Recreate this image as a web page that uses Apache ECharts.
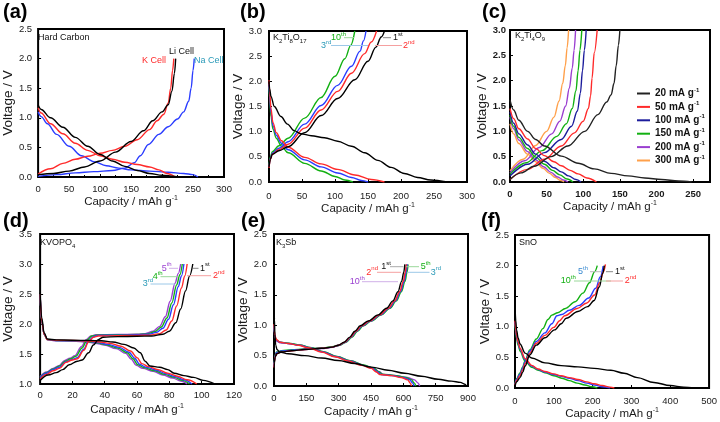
<!DOCTYPE html>
<html><head><meta charset="utf-8">
<script src="https://cdn.jsdelivr.net/npm/echarts@6/dist/echarts.min.js"></script>
<style>html,body{margin:0;padding:0;background:#fff}#c{width:720px;height:422px}</style>
</head><body><div id="c"></div>
<script>
// ---------- axis ranges [min, max, interval] ----------
const xRanges = [[0,300,50],[0,300,50],[0,273,50],[0,120,20],[0,900,150],[0,500,100]];
const yRanges = [[0,2.5,0.5],[0,3,0.5],[0,3,0.5],[1,3.5,0.5],[0,2.5,0.5],[0,2.5,0.5]];

// ---------- (a) Hard carbon ----------
const aK_dis = [[0,1.17],[5,1.08],[20,0.9],[40,0.73],[60,0.57],[80,0.45],[100,0.36],[120,0.3],[140,0.25],[160,0.21],[180,0.17],[195,0.12],[208,0.06],[220,0.01]];
const aLi_dis = [[0,1.22],[5,1.14],[20,1.0],[40,0.84],[60,0.67],[80,0.52],[100,0.38],[120,0.27],[140,0.18],[160,0.11],[180,0.06],[200,0.03],[220,0.01],[232,0.0]];
const aNa_dis = [[0,1.1],[5,1.02],[15,0.9],[30,0.72],[50,0.52],[70,0.36],[90,0.26],[110,0.19],[130,0.15],[150,0.12],[180,0.1],[210,0.08],[235,0.06],[250,0.04],[258,0.0]];
const aK_chg = [[0,0.05],[20,0.14],[40,0.23],[60,0.3],[80,0.35],[100,0.4],[120,0.45],[140,0.52],[160,0.63],[180,0.8],[192,0.95],[203,1.06],[210,1.25],[214,1.5],[217,1.8],[219,2.0]];
const aLi_chg = [[0,0.04],[25,0.06],[50,0.1],[75,0.17],[100,0.27],[125,0.42],[150,0.6],[170,0.78],[185,0.95],[200,1.1],[210,1.22],[216,1.45],[220,1.75],[222,2.0]];
const aNa_chg = [[0,0.01],[30,0.04],[60,0.07],[90,0.09],[120,0.11],[140,0.15],[155,0.24],[165,0.36],[178,0.55],[195,0.72],[210,0.85],[225,0.98],[235,1.1],[243,1.28],[247,1.5],[250,1.8],[252,2.0]];

// ---------- (b) K2Ti8O17 ----------
const b1_dis = [[0,2.0],[1,1.85],[3,1.7],[8,1.5],[18,1.3],[28,1.15],[38,1.02],[48,0.96],[64,0.92],[84,0.88],[104,0.81],[125,0.71],[145,0.58],[165,0.43],[185,0.29],[205,0.17],[225,0.09],[245,0.04],[270,0.0]];
const b2_dis = [[0,2.02],[1,1.8],[3,1.45],[6,1.18],[11,0.98],[19,0.82],[29,0.69],[54,0.49],[79,0.36],[104,0.25],[130,0.14],[155,0.05],[175,0.0]];
const b3_dis = [[0,1.95],[1,1.7],[3,1.38],[6,1.12],[11,0.93],[19,0.77],[29,0.64],[54,0.44],[79,0.3],[104,0.18],[125,0.09],[140,0.03],[150,0.0]];
const b10_dis = [[0,1.9],[1,1.65],[3,1.3],[6,1.05],[11,0.87],[19,0.71],[29,0.58],[54,0.37],[79,0.22],[100,0.11],[115,0.04],[127,0.0]];
const b1_chg = [[0,0.3],[2,0.45],[5,0.55],[15,0.62],[29,0.7],[54,0.98],[79,1.32],[104,1.66],[130,2.03],[150,2.4],[162,2.68],[170,2.88],[175,3.0]];
const b2_chg = [[0,0.28],[2,0.45],[5,0.55],[15,0.64],[29,0.75],[54,1.07],[79,1.43],[104,1.8],[125,2.16],[145,2.55],[155,2.78],[163,3.0]];
const b3_chg = [[0,0.3],[2,0.47],[5,0.57],[15,0.67],[29,0.8],[54,1.15],[79,1.52],[104,1.92],[125,2.3],[138,2.6],[143,2.8],[147,3.0]];
const b10_chg = [[0,0.33],[2,0.5],[5,0.6],[15,0.72],[29,0.87],[54,1.27],[79,1.68],[100,2.1],[115,2.45],[124,2.72],[130,3.0]];

// ---------- (c) K2Ti4O9 ----------
const rateNames = ['20 mA','50 mA','100 mA','150 mA','200 mA','300 mA'];
const c20_chg = [[0,0.05],[15,0.18],[33,0.31],[56,0.5],[79,0.71],[102,1.0],[120,1.33],[132,1.58],[138,1.72],[142,1.95],[145,2.3],[148,2.7],[150,3.0]];
const c50_chg = [[0,0.05],[24,0.25],[47,0.45],[70,0.71],[88,0.97],[100,1.2],[107,1.45],[110,1.7],[112,2.05],[115,2.55],[119,3.0]];
const c100_chg = [[0,0.12],[24,0.35],[47,0.58],[70,0.84],[84,1.1],[92,1.4],[96,1.75],[99,2.2],[101.5,2.6],[104,3.0]];
const c150_chg = [[0,0.15],[22,0.38],[44,0.62],[64,0.9],[77,1.15],[85,1.45],[90,1.8],[93,2.2],[95.5,2.6],[98,3.0]];
const c200_chg = [[0,0.18],[20,0.42],[40,0.68],[57,0.95],[68,1.2],[76,1.5],[81,1.85],[85,2.25],[87.5,2.6],[89.5,3.0]];
const c300_chg = [[0,0.22],[18,0.45],[35,0.72],[50,1.0],[60,1.28],[67,1.6],[72,1.95],[75.5,2.3],[78,2.65],[80,3.0]];
const c20_dis = [[0,1.62],[5,1.42],[12,1.22],[24,1.0],[35,0.84],[47,0.71],[70,0.51],[93,0.37],[115,0.26],[138,0.17],[161,0.12],[184,0.08],[207,0.05],[230,0.02],[248,0.0]];
const c50_dis = [[0,1.45],[5,1.25],[12,1.05],[24,0.85],[35,0.66],[47,0.52],[60,0.4],[70,0.32],[82,0.23],[93,0.16],[105,0.08],[118,0.0]];
const c100_dis = [[0,1.38],[5,1.16],[12,0.95],[24,0.73],[35,0.55],[47,0.41],[60,0.28],[70,0.2],[80,0.12],[90,0.05],[97,0.0]];
const c150_dis = [[0,1.32],[5,1.1],[12,0.88],[24,0.66],[35,0.49],[47,0.35],[58,0.23],[68,0.14],[78,0.06],[86,0.0]];
const c200_dis = [[0,1.28],[5,1.05],[12,0.83],[24,0.6],[35,0.44],[46,0.3],[56,0.19],[65,0.1],[73,0.04],[79,0.0]];
const c300_dis = [[0,1.15],[5,0.95],[12,0.76],[24,0.55],[35,0.4],[45,0.27],[54,0.17],[62,0.09],[69,0.03],[74,0.0]];

// ---------- (d) KVOPO4 ----------
const d1_dis = [[0,2.52],[1,2.1],[2.5,1.85],[4.5,1.75],[10,1.735],[20,1.73],[30,1.725],[38,1.72],[45,1.7],[52,1.66],[58,1.6],[62,1.52],[65,1.38],[68,1.3],[74,1.28],[79,1.24],[83,1.18],[89,1.14],[95,1.11],[101,1.06],[108,1.0]];
const d2_dis = [[0,2.5],[1,2.05],[2.5,1.83],[4.5,1.74],[10,1.73],[20,1.725],[30,1.715],[37,1.7],[43,1.68],[50,1.63],[56,1.55],[60,1.44],[63,1.34],[67,1.29],[73,1.24],[79,1.18],[85,1.13],[91,1.07],[97,1.0]];
const d3_dis = [[0,2.5],[1,2.05],[2.5,1.83],[4.5,1.74],[10,1.725],[20,1.72],[30,1.71],[36,1.69],[42,1.66],[49,1.61],[55,1.53],[58.5,1.43],[61.5,1.33],[65.5,1.28],[72,1.23],[78,1.17],[84,1.12],[89,1.07],[94,1.0]];
const d4_dis = [[0,2.5],[1,2.05],[2.5,1.83],[4.5,1.74],[10,1.725],[20,1.72],[30,1.705],[35,1.685],[41,1.655],[48,1.6],[54,1.52],[57.5,1.42],[60.5,1.32],[64.5,1.27],[71,1.22],[77,1.16],[83,1.11],[88,1.06],[92.5,1.0]];
const d5_dis = [[0,2.5],[1,2.05],[2.5,1.83],[4.5,1.74],[10,1.72],[20,1.715],[29,1.7],[34,1.68],[40,1.65],[47,1.59],[53,1.51],[56.5,1.41],[59.5,1.31],[63.5,1.26],[70,1.21],[76,1.15],[82,1.1],[87,1.05],[91,1.0]];
const d1_chg = [[0,1.06],[5,1.15],[10,1.19],[14,1.24],[18,1.32],[23,1.38],[26,1.4],[30,1.52],[33,1.65],[36,1.74],[39,1.78],[48,1.79],[60,1.795],[69,1.8],[76,1.83],[80,1.88],[84,2.02],[87,2.25],[90,2.55],[92.5,2.8],[94.5,3.0]];
const d2_chg = [[0,1.08],[4,1.16],[8,1.22],[12,1.26],[16,1.36],[20,1.4],[23,1.42],[27,1.56],[30,1.7],[33,1.78],[36,1.8],[48,1.805],[60,1.81],[68,1.815],[74,1.84],[78,1.9],[81.5,2.05],[84.5,2.3],[87.5,2.6],[89.5,2.8],[91,3.0]];
const d3_chg = [[0,1.1],[4,1.18],[8,1.24],[12,1.28],[16,1.37],[20,1.41],[23,1.44],[27,1.58],[30,1.72],[33,1.79],[36,1.81],[48,1.815],[60,1.82],[67,1.83],[72,1.86],[76,1.93],[79.5,2.08],[82.5,2.32],[85.5,2.62],[87.5,2.8],[89,3.0]];
const d4_chg = [[0,1.11],[4,1.19],[8,1.25],[12,1.3],[15.5,1.38],[19,1.42],[22,1.46],[26,1.6],[29,1.73],[32,1.8],[35,1.815],[48,1.82],[60,1.825],[66,1.835],[71,1.87],[75,1.95],[78.5,2.1],[81.5,2.35],[84.5,2.65],[86.5,2.82],[88,3.0]];
const d5_chg = [[0,1.12],[4,1.2],[8,1.26],[12,1.31],[15,1.39],[18.5,1.43],[21.5,1.47],[25.5,1.62],[28.5,1.74],[31.5,1.8],[34.5,1.82],[48,1.825],[60,1.83],[65,1.84],[70,1.88],[74,1.96],[77.5,2.12],[80.5,2.38],[83.5,2.68],[85.5,2.84],[87,3.0]];

// ---------- (e) K3Sb ----------
const e1_dis = [[0,1.32],[2,1.1],[4,0.85],[8,0.67],[14,0.6],[25,0.56],[66,0.53],[143,0.5],[221,0.46],[298,0.42],[375,0.37],[452,0.31],[529,0.26],[606,0.21],[684,0.16],[761,0.11],[823,0.08],[865,0.06],[885,0.03],[893,0.0]];
const e2_dis = [[0,1.02],[2,0.9],[5,0.82],[12,0.76],[28,0.72],[66,0.7],[113,0.67],[159,0.63],[221,0.56],[282,0.48],[344,0.41],[406,0.34],[452,0.29],[475,0.23],[490,0.19],[545,0.17],[590,0.14],[620,0.1],[632,0.05],[638,0.0]];
const e3_dis = [[0,1.0],[2,0.88],[5,0.8],[12,0.75],[28,0.72],[66,0.7],[118,0.67],[165,0.63],[227,0.56],[288,0.48],[350,0.41],[412,0.34],[458,0.29],[481,0.23],[497,0.19],[552,0.17],[600,0.14],[630,0.1],[643,0.05],[650,0.0]];
const e5_dis = [[0,1.0],[2,0.88],[5,0.8],[12,0.75],[28,0.72],[66,0.705],[120,0.675],[168,0.635],[230,0.565],[292,0.485],[354,0.415],[416,0.345],[462,0.295],[486,0.235],[502,0.195],[558,0.175],[607,0.145],[637,0.105],[651,0.05],[658,0.0]];
const e10_dis = [[0,0.98],[2,0.86],[5,0.79],[12,0.74],[28,0.71],[66,0.7],[122,0.67],[170,0.63],[232,0.56],[295,0.48],[357,0.41],[419,0.34],[465,0.29],[490,0.23],[507,0.19],[565,0.17],[618,0.14],[652,0.1],[668,0.05],[676,0.0]];
const e1_chg = [[0,0.18],[2,0.38],[5,0.47],[12,0.53],[35,0.56],[82,0.58],[143,0.6],[221,0.62],[270,0.64],[298,0.67],[325,0.72],[350,0.8],[375,0.9],[400,0.99],[437,1.07],[483,1.17],[522,1.28],[552,1.4],[575,1.55],[592,1.72],[602,1.87],[607,2.0]];
const e2_chg = [[0,0.3],[2,0.4],[5,0.48],[12,0.53],[35,0.56],[82,0.58],[143,0.6],[221,0.62],[270,0.64],[300,0.67],[328,0.72],[354,0.8],[380,0.9],[406,0.99],[443,1.07],[490,1.17],[530,1.28],[560,1.4],[583,1.55],[600,1.72],[609,1.87],[614,2.0]];
const e3_chg = [[0,0.32],[2,0.42],[5,0.5],[12,0.55],[35,0.575],[82,0.59],[143,0.605],[221,0.62],[270,0.64],[302,0.67],[331,0.72],[357,0.8],[383,0.9],[410,0.99],[447,1.07],[494,1.17],[534,1.28],[564,1.4],[587,1.55],[604,1.72],[613,1.87],[618,2.0]];
const e5_chg = [[0,0.33],[2,0.43],[5,0.51],[12,0.56],[35,0.58],[82,0.595],[143,0.61],[221,0.625],[270,0.645],[305,0.67],[334,0.72],[361,0.8],[387,0.9],[414,0.99],[451,1.07],[498,1.17],[538,1.28],[568,1.4],[591,1.55],[608,1.72],[617,1.87],[622,2.0]];
const e10_chg = [[0,0.31],[2,0.41],[5,0.49],[12,0.54],[35,0.57],[82,0.585],[143,0.6],[221,0.615],[270,0.635],[300,0.665],[329,0.715],[355,0.795],[381,0.895],[408,0.985],[445,1.065],[492,1.165],[532,1.275],[562,1.395],[585,1.545],[602,1.715],[611,1.865],[616,2.0]];

// ---------- (f) SnO ----------
const f1_dis = [[0,1.35],[2,1.1],[4,0.95],[8,0.82],[13,0.72],[26,0.57],[43,0.49],[77,0.41],[119,0.365],[162,0.345],[204,0.32],[247,0.29],[281,0.24],[315,0.17],[358,0.09],[400,0.04],[435,0.015],[462,0.0]];
const f2_dis = [[0,1.1],[2,0.95],[4,0.86],[8,0.75],[13,0.65],[26,0.48],[43,0.37],[60,0.31],[77,0.27],[100,0.23],[119,0.2],[140,0.17],[162,0.14],[185,0.1],[204,0.07],[225,0.04],[245,0.015],[256,0.0]];
const f5_dis = [[0,1.08],[2,0.93],[4,0.84],[8,0.73],[13,0.63],[26,0.46],[43,0.36],[60,0.3],[77,0.26],[100,0.22],[119,0.19],[140,0.16],[162,0.12],[185,0.08],[205,0.05],[225,0.02],[245,0.0]];
const f10_dis = [[0,1.05],[2,0.9],[4,0.81],[8,0.7],[13,0.6],[26,0.44],[43,0.34],[60,0.29],[77,0.25],[100,0.2],[120,0.16],[140,0.12],[160,0.08],[180,0.05],[198,0.02],[212,0.0]];
const f1_chg = [[0,0.03],[4,0.1],[13,0.17],[20,0.26],[26,0.36],[38,0.54],[55,0.7],[77,0.82],[102,0.95],[119,1.05],[132,1.14],[162,1.25],[187,1.33],[204,1.43],[217,1.65],[226,1.87],[230,2.0]];
const f2_chg = [[0,0.05],[4,0.12],[13,0.2],[20,0.3],[26,0.4],[38,0.57],[55,0.73],[77,0.86],[100,0.99],[115,1.1],[128,1.18],[160,1.3],[185,1.39],[205,1.52],[218,1.72],[228,1.9],[233,2.02]];
const f5_chg = [[0,0.06],[4,0.14],[13,0.23],[20,0.33],[26,0.43],[38,0.6],[55,0.76],[77,0.9],[95,1.05],[108,1.18],[120,1.2],[140,1.27],[165,1.35],[190,1.47],[208,1.63],[220,1.82],[227,1.99]];
const f10_chg = [[0,0.07],[4,0.15],[13,0.25],[20,0.35],[26,0.45],[38,0.62],[55,0.8],[72,0.97],[85,1.12],[95,1.19],[110,1.23],[130,1.3],[155,1.41],[175,1.55],[192,1.72],[205,1.9],[212,2.0]];

// ---------- drawing ----------
const FONT = 'Liberation Sans, Arial, sans-serif';
const C = {k:'#000000', r:'#ff2a2a', b:'#2a3cff', g:'#12b012', p:'#9a3fd0', o:'#ffa04a', n:'#1c1c9c', t:'#2a9ab8'};
const chart = echarts.init(document.getElementById('c'), null, {renderer:'canvas'});

const grids = [
  {left:36, top:29, width:188, height:148},
  {left:269, top:31, width:198, height:151},
  {left:510, top:30, width:200, height:152},
  {left:37, top:234, width:197, height:150},
  {left:274, top:234, width:194, height:152},
  {left:515, top:235, width:195, height:153}
];
const xNameGap = [14,18,18,19,19,18];
const yNameGap = [21,21,18,22,21,22];
const xLabMargin = [7,9,7,6,7,8];
const yLabMargin = [6,7,4,8,7,6];

const xAxes = xRanges.map((r,i)=>({
  type:'value', gridIndex:i, min:r[0], max:r[1], interval:r[2],
  name:'{m|Capacity / mAh g}{s|-1}', nameLocation:'middle', nameGap:xNameGap[i],
  nameTextStyle:{rich:{m:{fontSize:11.5, fontFamily:FONT, color:'#1a1a1a', lineHeight:14}, s:{fontSize:7, fontFamily:FONT, color:'#1a1a1a', verticalAlign:'top', lineHeight:8}}},
  axisLine:{show:false}, splitLine:{show:false},
  axisTick:{show:true, inside:true, length:3, lineStyle:{color:'#000'}},
  minorTick: i===0 ? {show:true, splitNumber:2, length:2, lineStyle:{color:'#000'}} : {show:false},
  axisLabel:{fontSize:9.5, fontFamily:FONT, color:'#1a1a1a', margin:xLabMargin[i], fontWeight: i===2?'bold':'normal',
    formatter:v=> (Math.abs(v % r[2])<1e-9 || Math.abs(v % r[2]-r[2])<1e-9) ? String(v) : ''}
}));
const yAxes = yRanges.map((r,i)=>({
  type:'value', gridIndex:i, min:r[0], max:r[1], interval:r[2],
  name:'Voltage / V', nameLocation:'middle', nameGap:yNameGap[i],
  nameTextStyle:{fontSize:13.5, fontFamily:FONT, color:'#1a1a1a'},
  axisLine:{show:false}, splitLine:{show:false},
  axisTick:{show:true, inside:true, length:3, lineStyle:{color:'#000'}},
  axisLabel:{fontSize:9.5, fontFamily:FONT, color:'#1a1a1a', margin:yLabMargin[i], fontWeight: i===2?'bold':'normal',
    formatter:v=>v.toFixed(1)}
}));

function S(name, data, color, g, w){
  return {type:'line', name:name, data:data, xAxisIndex:g, yAxisIndex:g, smooth:0.35, smoothMonotone:'x',
    showSymbol:false, symbol:'none', lineStyle:{color:color, width:w||1.4}, itemStyle:{color:color},
    silent:true, animation:false, clip:true, z:3};
}
const series = [
  S('aNa1',aNa_dis,C.b,0), S('aNa2',aNa_chg,C.b,0), S('aK1',aK_dis,C.r,0), S('aK2',aK_chg,C.r,0), S('aLi1',aLi_dis,C.k,0), S('aLi2',aLi_chg,C.k,0),
  S('b10d',b10_dis,C.g,1), S('b10c',b10_chg,C.g,1), S('b3d',b3_dis,C.b,1), S('b3c',b3_chg,C.b,1), S('b2d',b2_dis,C.r,1), S('b2c',b2_chg,C.r,1), S('b1d',b1_dis,C.k,1), S('b1c',b1_chg,C.k,1),
  S(rateNames[5],c300_chg,C.o,2), S(rateNames[5],c300_dis,C.o,2),
  S(rateNames[4],c200_chg,C.p,2), S(rateNames[4],c200_dis,C.p,2),
  S(rateNames[3],c150_chg,C.g,2), S(rateNames[3],c150_dis,C.g,2),
  S(rateNames[2],c100_chg,C.n,2), S(rateNames[2],c100_dis,C.n,2),
  S(rateNames[1],c50_chg,C.r,2), S(rateNames[1],c50_dis,C.r,2),
  S(rateNames[0],c20_chg,'#222',2), S(rateNames[0],c20_dis,'#222',2),
  S('d5d',d5_dis,C.p,3), S('d5c',d5_chg,C.p,3), S('d4d',d4_dis,C.g,3), S('d4c',d4_chg,C.g,3), S('d3d',d3_dis,C.b,3), S('d3c',d3_chg,C.b,3), S('d2d',d2_dis,C.r,3), S('d2c',d2_chg,C.r,3), S('d1d',d1_dis,C.k,3), S('d1c',d1_chg,C.k,3),
  S('e10d',e10_dis,C.p,4), S('e10c',e10_chg,C.p,4), S('e5d',e5_dis,C.g,4), S('e5c',e5_chg,C.g,4), S('e3d',e3_dis,C.b,4), S('e3c',e3_chg,C.b,4), S('e2d',e2_dis,C.r,4), S('e2c',e2_chg,C.r,4), S('e1d',e1_dis,C.k,4), S('e1c',e1_chg,C.k,4),
  S('f10d',f10_dis,C.g,5), S('f10c',f10_chg,C.g,5), S('f5d',f5_dis,C.b,5), S('f5c',f5_chg,C.b,5), S('f2d',f2_dis,C.r,5), S('f2c',f2_chg,C.r,5), S('f1d',f1_dis,C.k,5), S('f1c',f1_chg,C.k,5)
];

// ---------- text annotations (pixel placement) ----------
const RICH = {
  n:{fontSize:9, lineHeight:13, fontFamily:FONT},
  s:{fontSize:6, lineHeight:6, fontFamily:FONT, verticalAlign:'top'},
  d:{fontSize:6, lineHeight:6, fontFamily:FONT, verticalAlign:'bottom'}
};
function richCopy(col){ const o={}; for(const k in RICH){ o[k]=Object.assign({}, RICH[k], {fill:col, color:col}); } return o; }
function T(txt, x, y, col){
  return {type:'text', x:x, y:y, z:100, silent:true,
    style:{text:txt, fill:col, fontSize:9, fontFamily:FONT, align:'left', verticalAlign:'middle', rich:richCopy(col)}};
}
function L(x1, x2, y, col){
  return {type:'line', z:99, silent:true, shape:{x1:x1, y1:y, x2:x2, y2:y}, style:{stroke:col, lineWidth:1}};
}
const graphics = [];
[['(a)',3,12],['(b)',240,12],['(c)',482,12],['(d)',3,221],['(e)',241,221],['(f)',481,221]].forEach(p=>{
  graphics.push({type:'text', x:p[1], y:p[2], z:100, silent:true, style:{text:p[0], fontSize:20, fontWeight:'bold', fontFamily:FONT, fill:'#000', verticalAlign:'middle'}});
});
graphics.push(
  T('{n|Hard Carbon}',38,38,'#111'),
  T('{n|K}{d|2}{n|Ti}{d|8}{n|O}{d|17}',273,38,'#111'),
  T('{n|K}{d|2}{n|Ti}{d|4}{n|O}{d|9}',515,36,'#111'),
  T('{n|KVOPO}{d|4}',40,243,'#111'),
  T('{n|K}{d|3}{n|Sb}',276,243,'#111'),
  T('{n|SnO}',519,243,'#111'),
  // (a)
  T('{n|Li Cell}',169,52,'#111'), T('{n|K Cell}',142,61,C.r), T('{n|Na Cell}',194,61,C.t),
  // (b)
  T('{n|10}{s|th}',331,37.7,C.g), L(344,354,37.7,'#9ad89a'),
  T('{n|3}{s|rd}',321,45.5,C.t), L(331,368,45.5,'#9cc8e8'),
  T('{n|1}{s|st}',393,37.7,'#111'), L(383,391,37.7,'#888'),
  T('{n|2}{s|nd}',403,45.5,C.r), L(375,402,45.5,'#f5a0a0'),
  // (d)
  T('{n|5}{s|th}',161.7,268.3,C.p), L(169,178,268.3,'#d0b0e8'),
  T('{n|1}{s|st}',200,268.3,'#111'), L(193,198.5,268.3,'#888'),
  T('{n|4}{s|th}',152.7,276.7,C.g), L(160.5,178,276.7,'#9ad89a'),
  T('{n|2}{s|nd}',213,275.7,C.r), L(187,211,275.7,'#f5a0a0'),
  T('{n|3}{s|rd}',142.7,284,C.t), L(150.5,175,284,'#9cc8e8'),
  // (e)
  T('{n|1}{s|st}',381.3,266.7,'#111'), L(390,403.5,266.7,'#aaa'),
  T('{n|5}{s|th}',420.7,266.7,C.g), L(406,419,266.7,'#9ad89a'),
  T('{n|2}{s|nd}',366.3,272.3,C.r), L(377,401,272.3,'#f5a0a0'),
  T('{n|3}{s|rd}',430.7,272.3,C.t), L(408,429.5,272.3,'#9cc8e8'),
  T('{n|10}{s|th}',349.7,281.7,C.p), L(362,398,281.7,'#d0b0e8'),
  // (f)
  T('{n|5}{s|th}',578,271.7,'#3a8ad0'), L(590,601,271.7,'#bbb'),
  T('{n|1}{s|st}',615,271.7,'#111'), L(606,613,271.7,'#888'),
  T('{n|10}{s|th}',560.7,281,C.g), L(574,611,281,'#9ad89a'),
  T('{n|2}{s|nd}',624.7,281,C.r), L(606,623,281,'#f5a0a0')
);

chart.setOption({
  animation:false,
  backgroundColor:'#fff',
  textStyle:{fontFamily:FONT},
  grid: grids.map(g=>Object.assign({show:true, borderColor:'#000', borderWidth:2, backgroundColor:'transparent', containLabel:false}, g)),
  xAxis: xAxes,
  yAxis: yAxes,
  legend:{
    data: rateNames, orient:'vertical', left:637, top:87, icon:'rect', itemWidth:13, itemHeight:2, itemGap:0.4,
    selectedMode:false, padding:0,
    formatter: name => '{t|' + name + ' g}{s|-1}',
    textStyle:{fontFamily:FONT, fontSize:10, fontWeight:'bold', color:'#111', lineHeight:13,
      rich:{t:{fontSize:10, fontWeight:'bold', fontFamily:FONT, color:'#111', lineHeight:13}, s:{fontSize:6, fontWeight:'bold', fontFamily:FONT, color:'#111', lineHeight:6, verticalAlign:'top'}}}
  },
  series: series,
  graphic: graphics
});
</script></body></html>
